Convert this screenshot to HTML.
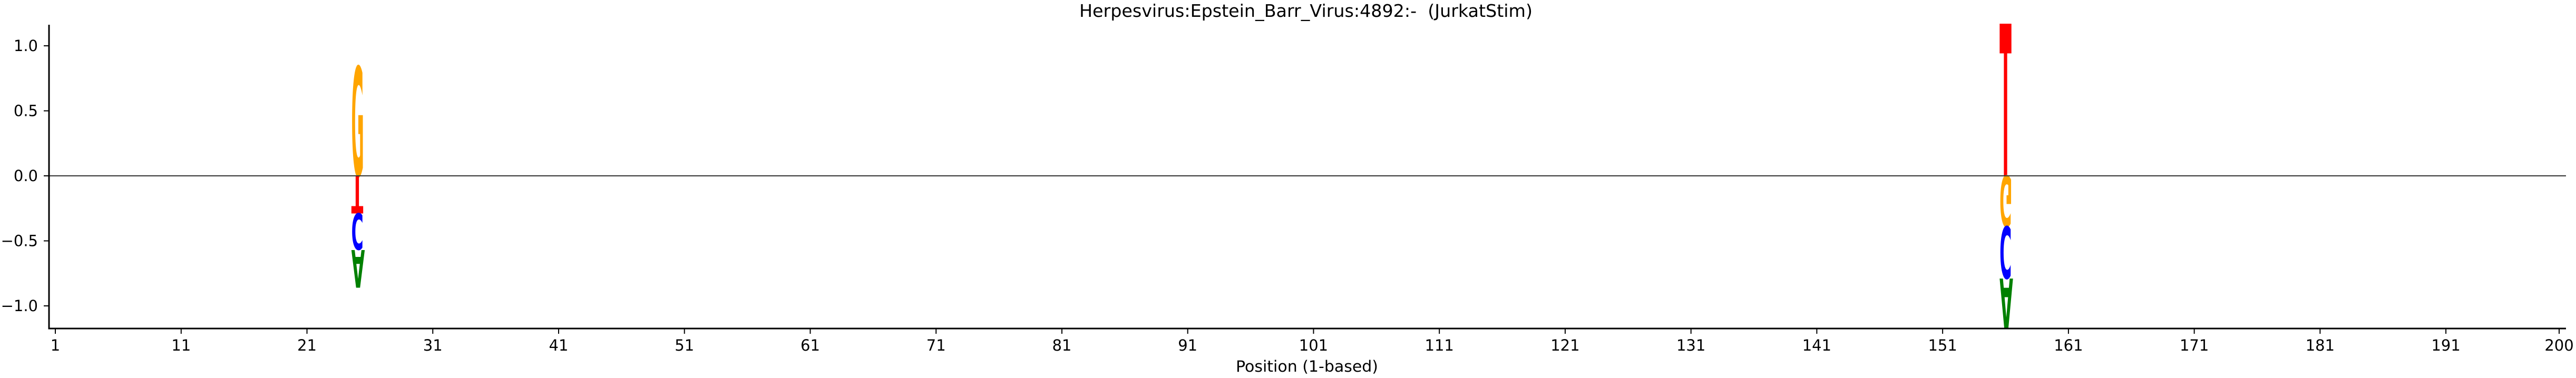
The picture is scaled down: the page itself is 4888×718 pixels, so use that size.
<!DOCTYPE html>
<html><head><meta charset="utf-8"><style>
html,body{margin:0;padding:0;background:#fff;}
svg{display:block;font-family:"DejaVu Sans","Liberation Sans",sans-serif;}
</style></head><body>
<svg id="chart" width="4888" height="718" viewBox="0 0 4888 718" xmlns="http://www.w3.org/2000/svg">
<text x="2478" y="32" font-size="33" text-anchor="middle" textLength="860" lengthAdjust="spacingAndGlyphs" style="white-space:pre">Herpesvirus:Epstein_Barr_Virus:4892:-  (JurkatStim)</text>
<text x="2480" y="706" font-size="29" text-anchor="middle" textLength="270" lengthAdjust="spacingAndGlyphs">Position (1-based)</text>
<g id="plot"></g>
</svg>
<script>
const positions = [25, 156];
const letterStacks = [
  [['G', 0.84], ['T', -0.29], ['C', -0.28], ['A', -0.29]],
  [['T', 1.17], ['G', -0.39], ['C', -0.40], ['A', -0.39]]
];
const xTicks = [1,11,21,31,41,51,61,71,81,91,101,111,121,131,141,151,161,171,181,191,200];
const yTicks = [1.0, 0.5, 0.0, -0.5, -1.0];
const yTickLabels = ['1.0','0.5','0.0','\u22120.5','\u22121.0'];

const NS = 'http://www.w3.org/2000/svg';
const plot = document.getElementById('plot');
const X0 = 105, DX = (4856 - 105) / 199;
const Y0 = 334, DY = 247;
const xs = p => X0 + (p - 1) * DX;
const ys = v => Y0 - v * DY;
const colors = {A:'#008000', C:'#0000ff', G:'#ffa500', T:'#ff0000'};
const adv = {A:0.684, C:0.722, G:0.775, T:0.682};
const FS = 100, CAP = 0.729;

function mk(tag, attrs) {
  const e = document.createElementNS(NS, tag);
  for (const k in attrs) e.setAttribute(k, attrs[k]);
  return e;
}

positions.forEach((p, i) => {
  let pos = 0, neg = 0;
  const w = DX * 0.95;
  const cx = xs(p);
  letterStacks[i].forEach(([L, v]) => {
    const h = Math.abs(v) * DY;
    const sx = w / (adv[L] * FS);
    const sy = h / (CAP * FS);
    let t;
    if (v >= 0) {
      const base = ys(pos);
      t = mk('text', {x: 0, y: 0, 'font-size': FS, 'font-weight': 'bold', fill: colors[L],
        transform: `translate(${cx - w/2},${base}) scale(${sx},${sy})`});
      pos += v;
    } else {
      const top = ys(neg);
      t = mk('text', {x: 0, y: 0, 'font-size': FS, 'font-weight': 'bold', fill: colors[L],
        transform: `translate(${cx - w/2},${top}) scale(${sx},${-sy})`});
      neg += v;
    }
    t.textContent = L;
    
    
    plot.appendChild(t);
  });
});

const zl = mk('line', {x1: 93, x2: 4869, y1: ys(0), y2: ys(0), stroke: '#333', 'stroke-width': 2});


plot.appendChild(zl);

const ls = mk('line', {x1: 93, x2: 93, y1: 47, y2: 625.5, stroke: '#000', 'stroke-width': 3});


plot.appendChild(ls);
const bs = mk('line', {x1: 91.5, x2: 4869, y1: 624, y2: 624, stroke: '#000', 'stroke-width': 3});


plot.appendChild(bs);

xTicks.forEach(t => {
  const x = xs(t);
  const tk = mk('line', {x1: x, x2: x, y1: 624, y2: 634, stroke: '#000', 'stroke-width': 2});
  
  
  plot.appendChild(tk);
  const lb = mk('text', {x: x, y: 666, 'font-size': 29, 'text-anchor': 'middle', fill: '#000'});
  lb.textContent = String(t);
  
  
  plot.appendChild(lb);
});

yTicks.forEach((v, i) => {
  const y = ys(v);
  const tk = mk('line', {x1: 83, x2: 93, y1: y, y2: y, stroke: '#000', 'stroke-width': 2});
  
  
  plot.appendChild(tk);
  const lb = mk('text', {x: 72, y: y + 10, 'font-size': 29, 'text-anchor': 'end', fill: '#000'});
  lb.textContent = yTickLabels[i];
  
  
  plot.appendChild(lb);
});
</script>
</body></html>
